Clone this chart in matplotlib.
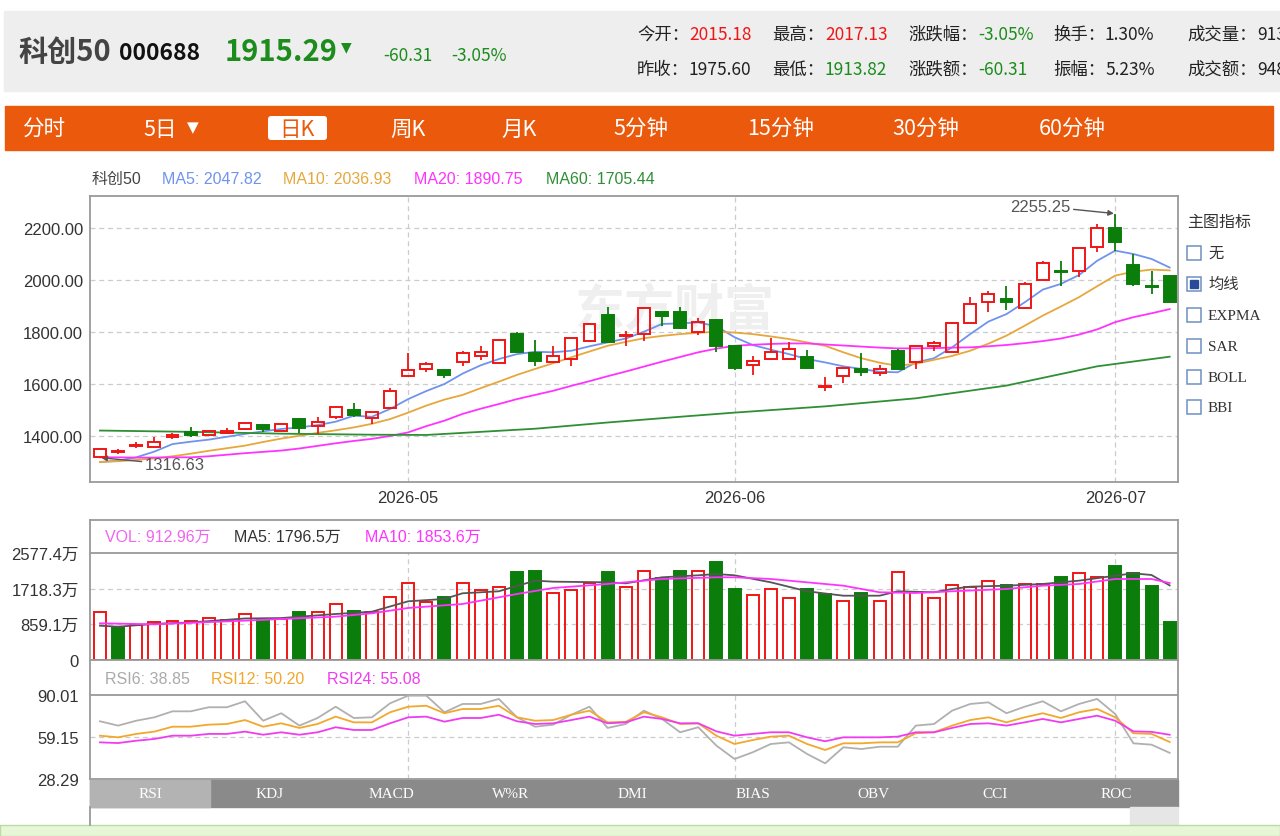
import numpy as np
import matplotlib.pyplot as plt
from matplotlib.patches import Rectangle, FancyBboxPatch

plt.rcParams['font.family'] = ['Liberation Sans', 'Noto Sans CJK SC', 'DejaVu Sans']
CJK = ['Noto Sans CJK SC', 'DejaVu Sans']
SERIF = ['Liberation Serif', 'Noto Sans CJK SC', 'DejaVu Sans']

# ---- daily candles (index 0 .. 59) ----
opens = [1320, 1338, 1362, 1358, 1396, 1417, 1405, 1413, 1426, 1442,
         1420, 1465, 1440, 1472, 1501, 1468, 1507, 1630, 1658, 1654,
         1686, 1709, 1681, 1792, 1719, 1686, 1696, 1764, 1865, 1783,
         1792, 1876, 1876, 1801, 1847, 1747, 1673, 1696, 1696, 1703,
         1590, 1630, 1658, 1643, 1726, 1686, 1745, 1724, 1835, 1917,
         1927, 1891, 2001, 2034, 2036, 2128, 2200, 2058, 1978, 2015.18]
highs = [1352, 1350, 1378, 1395, 1411, 1433, 1424, 1430, 1451, 1444,
         1449, 1468, 1472, 1515, 1527, 1494, 1583, 1718, 1686, 1656,
         1726, 1747, 1772, 1799, 1770, 1745, 1778, 1833, 1895, 1805,
         1893, 1878, 1895, 1853, 1850, 1750, 1709, 1776, 1760, 1732,
         1626, 1662, 1719, 1673, 1735, 1750, 1767, 1837, 1936, 1959,
         1978, 1992, 2074, 2074, 2125, 2215, 2255.25, 2100, 2036, 2017.13]
lows = [1316.63, 1332, 1353, 1356, 1388, 1396, 1400, 1408, 1424, 1417,
        1418, 1410, 1408, 1466, 1474, 1446, 1505, 1628, 1648, 1625,
        1670, 1692, 1678, 1722, 1668, 1681, 1668, 1760, 1760, 1748,
        1767, 1824, 1812, 1790, 1724, 1655, 1635, 1694, 1694, 1656,
        1575, 1604, 1632, 1632, 1655, 1658, 1726, 1722, 1833, 1876,
        1886, 1889, 1999, 1976, 2010, 2106, 2113, 1976, 1948, 1913.82]
closes = [1350, 1343, 1366, 1378, 1404, 1402, 1419, 1421, 1449, 1427,
          1446, 1430, 1455, 1510, 1482, 1491, 1574, 1655, 1677, 1636,
          1719, 1722, 1770, 1724, 1690, 1709, 1776, 1831, 1763, 1789,
          1891, 1863, 1814, 1840, 1745, 1660, 1690, 1724, 1735, 1660,
          1594, 1660, 1648, 1658, 1658, 1747, 1758, 1835, 1908, 1946,
          1914, 1985, 2064, 2030, 2123, 2200, 2145, 1985, 1974, 1915.29]

ma5 = [1300, 1305, 1318, 1340, 1369, 1378, 1386, 1397, 1408, 1418,
       1427, 1433, 1442, 1455, 1478, 1474, 1504, 1542, 1573, 1600,
       1640, 1672, 1696, 1715, 1724, 1722, 1728, 1745, 1760, 1775,
       1801, 1831, 1833, 1837, 1822, 1780, 1750, 1732, 1715, 1696,
       1683, 1668, 1658, 1647, 1645, 1683, 1699, 1741, 1792, 1840,
       1869, 1914, 1963, 1985, 2019, 2074, 2113, 2100, 2081, 2048]
ma10 = [1300, 1303, 1308, 1314, 1322, 1332, 1343, 1353, 1363, 1377,
        1390, 1401, 1412, 1422, 1433, 1447, 1465, 1490, 1517, 1540,
        1558, 1584, 1609, 1635, 1658, 1680, 1703, 1725, 1747, 1762,
        1776, 1785, 1792, 1797, 1801, 1798, 1792, 1783, 1773, 1760,
        1747, 1722, 1699, 1682, 1670, 1678, 1693, 1708, 1728, 1755,
        1786, 1824, 1863, 1898, 1934, 1976, 2017, 2032, 2040, 2037]
ma20 = [1318, 1318, 1317, 1317, 1318, 1318, 1322, 1328, 1334, 1339,
        1344, 1352, 1362, 1372, 1381, 1389, 1400, 1414, 1438, 1459,
        1485, 1505, 1523, 1542, 1558, 1574, 1593, 1611, 1630, 1648,
        1667, 1686, 1704, 1722, 1736, 1747, 1751, 1754, 1756, 1756,
        1752, 1748, 1744, 1740, 1737, 1737, 1738, 1740, 1741, 1745,
        1750, 1757, 1765, 1775, 1790, 1810, 1838, 1857, 1872, 1888]
ma60_idx = [0, 5, 10, 15, 18, 20, 24, 28, 32, 35, 40, 45, 50, 55, 59]
ma60 = [1421, 1416, 1409, 1405, 1404, 1412, 1428, 1452, 1474, 1490, 1514, 1545, 1594, 1668, 1705]
ma_legend = ['MA5: 2047.82', 'MA10: 2036.93', 'MA20: 1890.75', 'MA60: 1705.44']

# ---- volume, in 万 ----
volumes = [1149, 802, 851, 908, 932, 932, 1012, 964, 1108, 988,
           988, 1149, 1149, 1349, 1188, 1149, 1525, 1847, 1390, 1510,
           1847, 1686, 1766, 2127, 2151, 1607, 1686, 1847, 2127, 1766,
           2151, 1975, 2151, 2151, 2368, 1710, 1566, 1703, 1494, 1703,
           1590, 1414, 1607, 1414, 2112, 1631, 1494, 1807, 1751, 1911,
           1807, 1831, 1831, 1992, 2088, 1992, 2272, 2088, 1790, 912.96]
vol_dir = list("RGRRRRRRRG" "RGRRGRRRRG" "RRRGGRRRGR"
               "RGGRGGRRRG" "GRGRRRRRRR" "GRRGRRGGGG")
vol_ma5_idx = [0, 1, 3, 5, 8, 10, 13, 15, 17, 19, 20, 22, 24, 25, 28, 29, 31, 33, 34, 35,
               37, 39, 41, 43, 44, 46, 47, 48, 50, 52, 54, 56, 57, 58, 59]
vol_ma5 = [826, 802, 870, 905, 1000, 1010, 1108, 1164, 1414, 1470, 1607, 1655, 1911, 1887,
           1871, 1847, 1992, 2040, 2070, 2040, 1871, 1655, 1549, 1549, 1655, 1631, 1711,
           1766, 1790, 1831, 1911, 2031, 2088, 2047, 1796.5]
vol_ma10_idx = [0, 3, 8, 13, 15, 17, 20, 23, 25, 28, 31, 34, 35, 37, 39, 41, 43, 45, 47,
                50, 52, 54, 56, 58, 59]
vol_ma10 = [884, 860, 948, 1044, 1125, 1253, 1349, 1590, 1735, 1831, 1951, 1992, 1992,
            1951, 1871, 1790, 1631, 1614, 1655, 1711, 1790, 1831, 1951, 1951, 1853.6]
vol_legend = ['VOL: 912.96万', 'MA5: 1796.5万', 'MA10: 1853.6万']

# ---- RSI ----
rsi6 = [70.7, 67.5, 71.1, 73.6, 78.0, 78.0, 81.0, 81.0, 85.4, 71.1,
        76.6, 67.5, 73.1, 81.4, 73.1, 73.6, 83.9, 89.5, 89.5, 77.3,
        83.4, 83.4, 87.1, 73.6, 66.7, 68.2, 75.5, 81.4, 65.8, 68.7,
        78.5, 72.4, 62.6, 66.3, 52.8, 43.0, 47.9, 54.0, 55.2, 46.7,
        39.8, 51.6, 50.3, 52.0, 52.0, 67.5, 68.7, 78.5, 83.4, 84.6,
        76.6, 81.4, 85.4, 78.0, 83.4, 87.1, 76.0, 54.5, 53.5, 47.5]
rsi12 = [60.1, 58.9, 61.4, 63.1, 66.7, 66.7, 68.2, 68.7, 71.6, 66.7,
         69.2, 65.8, 68.7, 74.1, 69.9, 69.9, 77.3, 81.4, 82.1, 76.6,
         79.7, 79.7, 82.1, 73.6, 71.1, 71.6, 75.5, 78.5, 69.9, 70.3,
         77.3, 73.6, 68.7, 69.2, 60.1, 54.0, 56.9, 59.4, 60.1, 54.0,
         49.6, 54.5, 54.5, 55.2, 55.2, 61.9, 62.6, 67.5, 71.6, 73.6,
         69.9, 73.6, 76.6, 73.1, 77.3, 79.7, 73.6, 61.9, 61.4, 55.5]
rsi24 = [55.2, 54.7, 56.4, 57.7, 60.1, 60.1, 61.4, 61.4, 63.1, 60.8,
         62.6, 60.8, 62.6, 66.3, 64.3, 64.3, 69.2, 73.6, 74.1, 70.4,
         73.1, 73.1, 75.5, 70.7, 68.7, 69.2, 71.6, 74.1, 69.2, 69.9,
         74.1, 72.4, 69.2, 69.2, 63.3, 60.1, 61.4, 62.6, 62.6, 58.9,
         56.0, 58.9, 58.9, 58.9, 59.4, 62.6, 62.6, 65.8, 68.7, 69.2,
         67.5, 69.9, 72.4, 69.9, 72.4, 74.8, 71.1, 63.3, 62.9, 60.8]
rsi_legend = ['RSI6: 38.85', 'RSI12: 50.20', 'RSI24: 55.08']

month_idx = [17, 35, 56]
month_labels = ['2026-05', '2026-06', '2026-07']
price_ticks = [1400, 1600, 1800, 2000, 2200]
vol_ticks = [0, 859.1, 1718.3, 2577.4]
vol_tick_labels = ['0', '859.1万', '1718.3万', '2577.4万']
rsi_ticks = [28.29, 59.15, 90.01]

tabs = ['分时', '5日', '日K', '周K', '月K', '5分钟', '15分钟', '30分钟', '60分钟']
ind_tabs = ['RSI', 'KDJ', 'MACD', 'W%R', 'DMI', 'BIAS', 'OBV', 'CCI', 'ROC']
main_opts = ['无', '均线', 'EXPMA', 'SAR', 'BOLL', 'BBI']

stat_labels = [['今开：', '最高：', '涨跌幅：', '换手：', '成交量：'],
               ['昨收：', '最低：', '涨跌额：', '振幅：', '成交额：']]
stat_values = [['2015.18', '2017.13', '-3.05%', '1.30%', '913万'],
               ['1975.60', '1913.82', '-60.31', '5.23%', '948亿']]

RED = '#f01616'
GREEN = '#0b7d0b'
TXTGREEN = '#1c8c1c'
GRID = '#cccccc'
C_MA5, C_MA10, C_MA20, C_MA60 = '#6f93ee', '#e6a73c', '#ff33ff', '#2f8f35'
ORANGE = '#eb5a0c'

W, H = 1280, 837
fig = plt.figure(figsize=(W / 100, H / 100), dpi=100)
XL = (-0.55, 59.46)


def px_axes(x0, y0, x1, y1):
    return fig.add_axes([x0 / W, 1 - y1 / H, (x1 - x0) / W, (y1 - y0) / H])


def frame(a):
    for s in a.spines.values():
        s.set_color('#9a9a9a')
        s.set_linewidth(1.3)
    a.tick_params(length=0, labelsize=12, colors='#333333')


n = len(closes)
x = np.arange(n)
o, c = np.array(opens), np.array(closes)
up = c >= o
col = [RED if u else GREEN for u in up]
blo, bhi = np.minimum(o, c), np.maximum(o, c)

# ---- main price chart ----
ax = px_axes(90, 197, 1178, 483)
ax.set_xlim(*XL)
ax.set_ylim(1223.1, 2323.1)
for v in price_ticks:
    ax.axhline(v, color=GRID, lw=0.9, ls=(0, (4, 3)), zorder=0)
for m in month_idx:
    ax.axvline(m, color=GRID, lw=0.9, ls=(0, (4, 3)), zorder=0)
ax.text(0.445, 0.6, '东方财富', transform=ax.transAxes, fontsize=36, fontweight='bold',
        color='#efefef', family=CJK, ha='left', va='center', zorder=0)
ax.plot(x, ma5, color=C_MA5, lw=1.3, zorder=2)
ax.plot(x, ma10, color=C_MA10, lw=1.3, zorder=2)
ax.plot(x, ma20, color=C_MA20, lw=1.3, zorder=2)
ax.plot(ma60_idx, ma60, color=C_MA60, lw=1.3, zorder=2)
ax.vlines(x, lows, blo, colors=col, lw=1.3, zorder=3)
ax.vlines(x, bhi, highs, colors=col, lw=1.3, zorder=3)
ax.bar(x, np.maximum(bhi - blo, 2), bottom=blo, width=0.66,
       color=['none' if u else GREEN for u in up], edgecolor=col, lw=1.4, zorder=4)
imax = int(np.argmax(highs))
imin = int(np.argmin(lows))
arrow = dict(arrowstyle='-|>', color='#555555', lw=1, shrinkA=0, shrinkB=1, mutation_scale=8)
ax.annotate(f'{highs[imax]:.2f}', xy=(imax, highs[imax]), xytext=(-32, 5.5),
            textcoords='offset points', ha='right', va='center', fontsize=12, color='#555555',
            arrowprops=arrow)
ax.annotate(f'{lows[imin]:.2f}', xy=(imin, lows[imin]), xytext=(32, -5),
            textcoords='offset points', ha='left', va='center', fontsize=12, color='#555555',
            arrowprops=arrow)
ax.set_yticks(price_ticks, [f'{v:.2f}' for v in price_ticks])
ax.set_xticks(month_idx, month_labels)
frame(ax)
ax.tick_params(axis='y', pad=5)
ax.tick_params(axis='x', pad=6)

# ---- volume ----
axv = px_axes(90, 521, 1178, 661)
axv.set_xlim(*XL)
axv.set_ylim(0, 3372)
axv.axhline(2577.4, color='#9a9a9a', lw=1.3)
for v in vol_ticks[1:3]:
    axv.axhline(v, color=GRID, lw=0.9, ls=(0, (4, 3)), zorder=0)
axv.vlines(month_idx, 0, 2577.4, color=GRID, lw=0.9, ls=(0, (4, 3)), zorder=0)
vcol = [RED if d == 'R' else GREEN for d in vol_dir]
axv.bar(x, volumes, width=0.66, color=['none' if d == 'R' else GREEN for d in vol_dir],
        edgecolor=vcol, lw=1.4, zorder=3)
axv.plot(vol_ma5_idx, vol_ma5, color='#555555', lw=1.3, zorder=4)
axv.plot(vol_ma10_idx, vol_ma10, color='#ff33ff', lw=1.3, zorder=4)
axv.set_yticks(vol_ticks, vol_tick_labels)
axv.set_xticks([])
frame(axv)
axv.tick_params(axis='y', pad=8)

# ---- RSI ----
axr = px_axes(90, 661, 1178, 780)
axr.set_xlim(*XL)
axr.set_ylim(28.29, 115.7)
axr.axhline(90.01, color='#9a9a9a', lw=1.3)
axr.axhline(59.15, color=GRID, lw=0.9, ls=(0, (4, 3)), zorder=0)
axr.vlines(month_idx, 28.29, 90.01, color=GRID, lw=0.9, ls=(0, (4, 3)), zorder=0)
axr.plot(x, rsi6, color='#b0b0b0', lw=1.3)
axr.plot(x, rsi12, color='#f2a82c', lw=1.3)
axr.plot(x, rsi24, color='#f03cf0', lw=1.3)
axr.set_yticks(rsi_ticks, [f'{v:.2f}' for v in rsi_ticks])
axr.set_xticks([])
frame(axr)
axr.tick_params(axis='y', pad=8)

# ---- page furniture in pixel coordinates ----
bg = fig.add_axes([0, 0, 1, 1], zorder=10)
bg.set_xlim(0, W)
bg.set_ylim(H, 0)
bg.axis('off')

bg.add_patch(Rectangle((4, 12), 1276, 80, color='#eeeeee', zorder=0))
bg.text(18, 52, '科创50', fontsize=21, fontweight='bold', color='#444444', family=CJK, va='center')
bg.text(119, 53, '000688', fontsize=16.5, fontweight='bold', color='#111111', family=CJK, va='center')
bg.text(225, 52, f'{closes[-1]:.2f}', fontsize=21, fontweight='bold', color=TXTGREEN,
        family=CJK, va='center')
bg.text(341, 47, '▼', fontsize=10, color=TXTGREEN, family=['DejaVu Sans'], va='center')
bg.text(383, 56, '-60.31', fontsize=12.5, color=TXTGREEN, family=CJK, va='center')
bg.text(451, 56, '-3.05%', fontsize=12.5, color=TXTGREEN, family=CJK, va='center')

stat_colors = [[RED, RED, TXTGREEN, '#222222', '#222222'],
               ['#222222', TXTGREEN, TXTGREEN, '#222222', '#222222']]
lab_x = [637, 772, 908, 1053, 1187]
val_x = [689, 825, 978, 1105, 1257]
for r, yy in enumerate([35, 70]):
    for k in range(5):
        bg.text(lab_x[k], yy, stat_labels[r][k], fontsize=12.5, color='#222222', family=CJK, va='center')
        bg.text(val_x[k], yy, stat_values[r][k], fontsize=12.5, color=stat_colors[r][k],
                family=CJK, va='center')

bg.add_patch(Rectangle((5, 107), 1268, 44, color=ORANGE, zorder=0))
tab_x = [44, 160, 297, 408, 519, 641, 781, 926, 1072]
bg.add_patch(FancyBboxPatch((268, 117), 59, 24, boxstyle='round,pad=0,rounding_size=3',
                            fc='white', ec='none', zorder=1))
for t, tx in zip(tabs, tab_x):
    bg.text(tx, 130, t, fontsize=15.5, color=ORANGE if t == '日K' else 'white',
            family=CJK, ha='center', va='center', zorder=2)
bg.text(193, 128, '▼', fontsize=11, color='white', family=['DejaVu Sans'], ha='center', va='center')

# legends
bg.text(92, 179, '科创50', fontsize=11.5, color='#444444', va='center')
for t, cc, tx in zip(ma_legend, [C_MA5, C_MA10, C_MA20, C_MA60], [162, 283, 414, 546]):
    bg.text(tx, 179, t, fontsize=11.5, color=cc, va='center')

bg.text(1187, 222, '主图指标', fontsize=11.5, color='#333333', family=CJK, va='center')
for t, yy in zip(main_opts, [254, 285, 316, 347, 378, 408]):
    bg.add_patch(Rectangle((1187, yy - 7), 14, 14, fc='white', ec='#6f8fc0', lw=1.1))
    if t == '均线':
        bg.add_patch(Rectangle((1190, yy - 4), 8, 8, color='#2a4a9a'))
    bg.text(1208, yy, t, fontsize=11, color='#333333', family=SERIF, va='center')

for t, cc, tx in zip(vol_legend, ['#f066f0', '#333333', '#ff33ff'], [105, 234, 365]):
    bg.text(tx, 537, t, fontsize=11.5, color=cc, va='center')
for t, cc, tx in zip(rsi_legend, ['#aaaaaa', '#f2a82c', '#f03cf0'], [105, 211, 327]):
    bg.text(tx, 679, t, fontsize=11.5, color=cc, va='center')

# indicator tab strip
bg.add_patch(Rectangle((90, 781), 1088, 27, color='#8a8a8a', zorder=0))
bg.add_patch(Rectangle((90, 781), 120, 27, color='#b3b3b3', zorder=0))
for t, tx in zip(ind_tabs, [150, 270, 391, 511, 632, 753, 873, 995, 1116]):
    bg.text(tx, 795, t, fontsize=11, color='white', family=SERIF, ha='center', va='center')
bg.plot([90, 90], [808, 826], color='#9a9a9a', lw=1.3)
bg.add_patch(Rectangle((1130, 808), 48, 18, color='#e6e6e6', zorder=0))
bg.add_patch(Rectangle((0, 826), W, 11, fc='#e8f6d8', ec='#b9dca2', lw=1, zorder=0))

fig.savefig('out.png', dpi=100)
